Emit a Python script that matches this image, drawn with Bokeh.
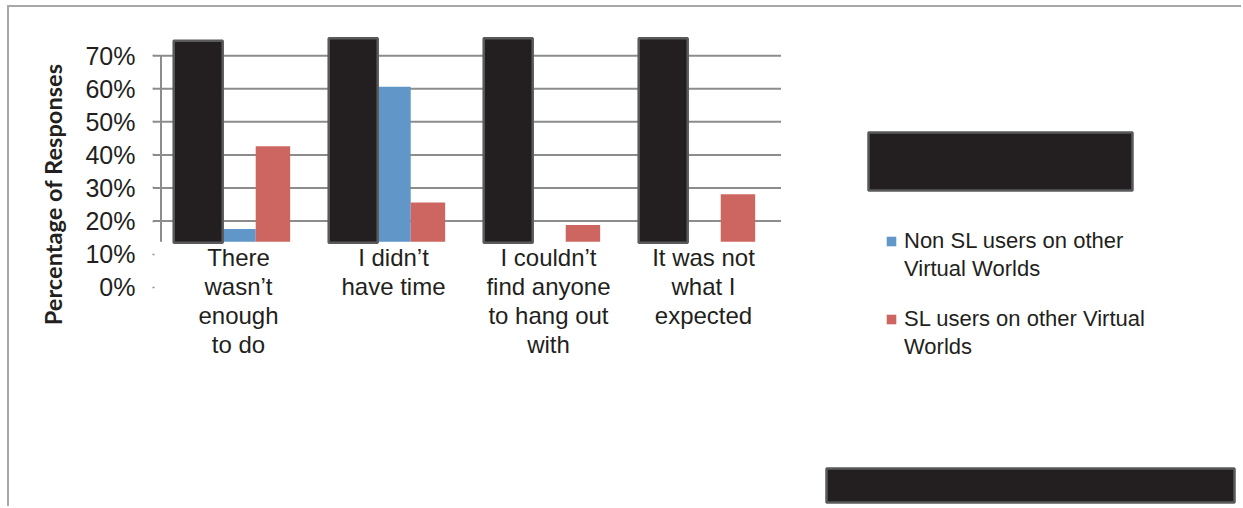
import numpy as np
from bokeh.plotting import figure
from bokeh.models import (Range1d, LinearAxis, FixedTicker, PrintfTickFormatter,
                          Legend, LegendItem, BoxAnnotation, Title)
from bokeh.core.properties import value
from bokeh.embed import file_html
from bokeh.resources import INLINE

# ---- data -------------------------------------------------------------
categories = [
    "There\nwasn\u2019t\nenough\nto do",
    "I didn\u2019t\nhave time",
    "I couldn\u2019t\nfind anyone\nto hang out\nwith",
    "It was not\nwhat I\nexpected",
]
non_sl_users = [17.6, 60.6, 0.0, 0.0]          # % of responses
sl_users = [42.6, 25.6, 18.8, 28.1]            # % of responses
redacted_series = [74.5, 75.3, 75.3, 75.3]     # blacked-out series
series_lines = [["Non SL users on other", "Virtual Worlds"],
                ["SL users on other Virtual", "Worlds"]]
y_ticks = [0, 10, 20, 30, 40, 50, 60, 70]
grid_ticks = [20, 30, 40, 50, 60, 70]
axis_floor = 13.7                              # visible bottom of the value axis

# ---- geometry / style ---------------------------------------------------
PAGE_W, PAGE_H = 1243, 508
EDGE_X, EDGE_Y = 9, 7     # canvas origin inside the grey corner border
W, H = PAGE_W - EDGE_X, PAGE_H - EDGE_Y
FRAME_LEFT = 152 - EDGE_X
CAT_PX = 155.0            # pixels per category
CAT0_OFF = 86.0           # first category centre, from the frame's left edge
PX_PER_PCT = 3.306
Y20_PX = 220.5 - EDGE_Y   # canvas row of the 20% gridline

BLUE = "#6096c8"
RED = "#cd6660"
INK = "#231f20"
GRID = "#8c8c8c"
BOX_EDGE = "#5a5a5c"
FRAME_GRAY = "#a8a8a8"

x_start = -CAT0_OFF / CAT_PX
x_end = x_start + (W - FRAME_LEFT) / CAT_PX
y_end = 20 + Y20_PX / PX_PER_PCT
y_start = y_end - H / PX_PER_PCT

p = figure(width=W, height=H,
           x_range=Range1d(x_start, x_end), y_range=Range1d(y_start, y_end),
           x_axis_location=None, y_axis_location=None,
           toolbar_location=None, output_backend="svg",
           min_border_left=FRAME_LEFT, min_border_right=0,
           min_border_top=0, min_border_bottom=0,
           outline_line_color=None, background_fill_color="white",
           border_fill_color="white")
p.grid.visible = False
p.styles = {"margin-left": f"{EDGE_X - 2}px", "margin-top": f"{EDGE_Y - 2}px",
            "border-left": f"2px solid {FRAME_GRAY}",
            "border-top": f"2px solid {FRAME_GRAY}"}

# value axis (labels only; line and gridlines are drawn in the frame)
yaxis = LinearAxis(ticker=FixedTicker(ticks=y_ticks),
                   formatter=PrintfTickFormatter(format="%d%%"),
                   axis_line_color=None,
                   major_tick_out=0, major_tick_in=2,
                   major_tick_line_color=GRID, major_tick_line_width=1.5,
                   minor_tick_line_color=None,
                   major_label_standoff=17,
                   major_label_text_font="Liberation Sans",
                   major_label_text_font_size="25px",
                   major_label_text_color=INK)
p.add_layout(yaxis, "left")

# axis title, set beside the tick labels
p.add_layout(Title(text="Percentage of Responses", align="right", offset=56,
                   vertical_align="middle", standoff=30,
                   text_font="Lato", text_font_style="bold",
                   text_font_size="23.6px", text_color=INK), "left")

n = len(categories)
idx = np.arange(n)
bar_w = 1 / 4.5

# gridlines with a short outward tick, plus the vertical axis line
grid_x0 = -0.5 - 8 / CAT_PX
grid_x1 = n - 0.5
p.segment(x0=[grid_x0] * len(grid_ticks), x1=[grid_x1] * len(grid_ticks),
          y0=grid_ticks, y1=grid_ticks, line_color=GRID, line_width=2)
p.segment(x0=[-0.5], x1=[-0.5], y0=[axis_floor], y1=[max(grid_ticks)],
          line_color=GRID, line_width=2)

# bars start at the visible floor of the value axis
blue_r = p.vbar(x=idx, bottom=axis_floor,
                top=np.maximum(non_sl_users, axis_floor),
                width=bar_w, fill_color=BLUE, line_color=None)
red_r = p.vbar(x=idx + bar_w, bottom=axis_floor,
               top=np.maximum(sl_users, axis_floor),
               width=bar_w, fill_color=RED, line_color=None)
# empty renderer for the wrapped second line of each legend entry
blank_r = p.vbar(x=[], top=[], width=bar_w, fill_alpha=0, line_alpha=0)

# blacked-out series
p.vbar(x=idx - 0.26, bottom=axis_floor - 0.3, top=redacted_series,
       width=49 / CAT_PX, fill_color=INK, line_color=BOX_EDGE, line_width=2.5)

# category labels under each group
p.text(x=idx, y=[axis_floor] * n, text=categories,
       text_align="center", text_baseline="top", y_offset=2,
       text_font=value("Liberation Sans"), text_font_size="24px",
       text_line_height=1.08, text_color=INK)

# legend: one block per series, text wrapped over two lines
legend_style = dict(orientation="vertical", glyph_width=12, glyph_height=12,
                    label_standoff=7, spacing=2, padding=0, margin=0,
                    border_line_color=None, background_fill_alpha=0,
                    label_text_font="Liberation Sans", label_text_font_size="22px",
                    label_text_color=INK)
for renderer, lines, loc in [(blue_r, series_lines[0], (733, 226)),
                             (red_r, series_lines[1], (733, 148))]:
    items = [LegendItem(label=lines[0], renderers=[renderer]),
             LegendItem(label=lines[1], renderers=[blank_r])]
    p.add_layout(Legend(items=items, location=loc, **legend_style), "center")

# blacked-out legend entry and caption (frame-relative screen units)
for (l, r, b, t) in [(716, 980, 318, 376), (674, 1082, 6, 40)]:
    p.add_layout(BoxAnnotation(left=l, right=r, bottom=b, top=t,
                               left_units="screen", right_units="screen",
                               bottom_units="screen", top_units="screen",
                               fill_color=INK, fill_alpha=1,
                               line_color=BOX_EDGE, line_width=2.5, line_alpha=1))

open("out.html", "w").write(file_html(p, INLINE))
